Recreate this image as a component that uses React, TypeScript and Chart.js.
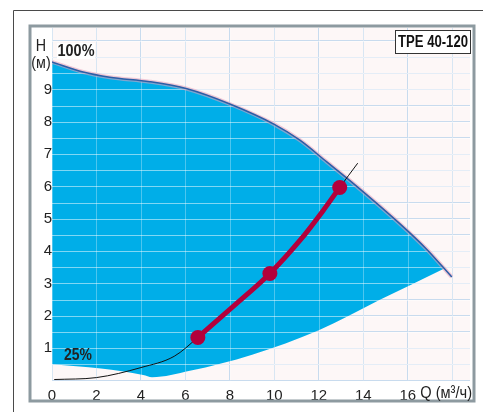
import React, { useEffect, useRef } from 'react';
import { Chart, registerables } from 'chart.js';

Chart.register(...registerables);

const FONT = "'Liberation Sans', Arial, sans-serif";

// 100% speed curve (Q m3/h, H m)
const upperFlow = [0, 1.4, 2.6, 4.4, 6.07, 8, 10, 11.15, 12.36, 13.4, 15.64, 16.85, 17.98];
const upperHead = [9.85, 9.54, 9.38, 9.24, 9.02, 8.55, 7.92, 7.43, 6.76, 6.18, 4.85, 4.06, 3.2];
// 25% speed curve
const lowerFlow = [0, 2.2, 4.1, 4.5, 6.2, 9, 12, 14.7, 17.6];
const lowerHead = [0.5, 0.37, 0.17, 0.1, 0.3, 0.8, 1.55, 2.48, 3.45];
// system curve
const systemFlow = [0.1, 2, 4, 5.5, 6.56, 8.1, 9.8, 11.15, 12.2, 12.94, 13.75];
const systemHead = [0.03, 0.09, 0.4, 0.75, 1.33, 2.26, 3.31, 4.33, 5.26, 5.97, 6.72];
// duty points
const dutyFlow = [6.56, 9.8, 12.94];
const dutyHead = [1.33, 3.31, 5.97];

const xTickValues = [0, 2, 4, 6, 8, 10, 12, 14, 16];
const xGridValues = [0, 2, 4, 6, 8, 10, 12, 14, 16, 18];
const yTickValues = [1, 2, 3, 4, 5, 6, 7, 8, 9];
const yGridValues = [0, 0.5, 1, 1.5, 2, 2.5, 3, 3.5, 4, 4.5, 5, 5.5, 6, 6.5, 7, 7.5, 8, 8.5, 9, 9.5, 10, 10.5];

const X_MAX = 18.8;
const Y_MAX = 10.9;

const xAxisTitle = 'Q (м³/ч)';
const yAxisTitle1 = 'H';
const yAxisTitle2 = '(м)';
const label100 = '100%';
const label25 = '25%';
const modelLabel = 'TPE 40-120';

const BLUE = '#00aee8';
const RED = '#b3003b';

const pts = (xs: number[], ys: number[]) => xs.map((x, i) => ({ x, y: ys[i] }));

// draw horizontally condensed text
function narrowText(ctx: any, text: string, x: number, y: number, font: string, align: string, sx = 0.84) {
  ctx.save();
  ctx.font = font;
  ctx.textBaseline = 'middle';
  ctx.textAlign = align;
  ctx.translate(x, y);
  ctx.scale(sx, 1);
  ctx.fillText(text, 0, 0);
  ctx.restore();
}

const decor = {
  id: 'decor',
  beforeDraw(chart: any) {
    const { ctx, chartArea: a } = chart;
    ctx.save();
    ctx.fillStyle = '#ffffff';
    ctx.fillRect(0, 0, chart.width, chart.height);
    ctx.fillStyle = '#fdf7f7';
    ctx.fillRect(a.left, a.top, a.right - a.left, a.bottom - a.top);
    ctx.strokeStyle = '#4a4a4a';
    ctx.lineWidth = 1;
    ctx.beginPath();
    ctx.moveTo(13.5, 412);
    ctx.lineTo(13.5, 10.5);
    ctx.lineTo(483, 10.5);
    ctx.stroke();
    ctx.restore();
  },
  afterDatasetDraw(chart: any, args: any) {
    if (args.index !== 0) return;
    const { ctx, chartArea: a, scales } = chart;
    ctx.save();
    ctx.beginPath();
    ctx.rect(a.left, a.top, a.right - a.left, a.bottom - a.top);
    ctx.clip();
    ctx.lineWidth = 1;
    ctx.strokeStyle = 'rgba(255,255,255,0.5)';
    yGridValues.forEach((v) => {
      const y = Math.round(scales.y.getPixelForValue(v)) + 0.5;
      ctx.beginPath();
      ctx.moveTo(a.left, y);
      ctx.lineTo(a.right, y);
      ctx.stroke();
    });
    ctx.strokeStyle = 'rgba(255,255,255,0.3)';
    xGridValues.forEach((v) => {
      const x = Math.round(scales.x.getPixelForValue(v)) + 0.5;
      ctx.beginPath();
      ctx.moveTo(x, a.top);
      ctx.lineTo(x, a.bottom);
      ctx.stroke();
    });
    ctx.restore();
  },
  afterDraw(chart: any) {
    const { ctx } = chart;
    ctx.save();
    // gray frame
    ctx.strokeStyle = '#8d9aa0';
    ctx.lineWidth = 3;
    ctx.strokeRect(30, 26, 444, 375);
    ctx.fillStyle = '#222';
    narrowText(ctx, yAxisTitle1, 41, 46, `17px ${FONT}`, 'center');
    narrowText(ctx, yAxisTitle2, 41, 63, `17px ${FONT}`, 'center');
    narrowText(ctx, xAxisTitle, 472, 393, `17px ${FONT}`, 'right', 0.86);
    // 100% label with white box
    ctx.fillStyle = '#ffffff';
    ctx.fillRect(57, 43, 38, 16);
    ctx.fillStyle = '#222';
    narrowText(ctx, label100, 76, 51, `bold 17px ${FONT}`, 'center', 0.85);
    narrowText(ctx, label25, 78, 355, `bold 17px ${FONT}`, 'center', 0.82);
    // model box
    ctx.fillStyle = '#ffffff';
    ctx.fillRect(395, 30, 75, 23);
    ctx.strokeStyle = '#333';
    ctx.lineWidth = 1;
    ctx.strokeRect(395.5, 30.5, 75, 23);
    ctx.fillStyle = '#111';
    narrowText(ctx, modelLabel, 433, 42.5, `bold 16px ${FONT}`, 'center', 0.82);
    ctx.restore();
  },
};

export default function App() {
  const ref = useRef<HTMLCanvasElement>(null);
  useEffect(() => {
    if (!ref.current) return;
    const redLine = pts(systemFlow, systemHead).filter(
      (p) => p.x >= dutyFlow[0] && p.x <= dutyFlow[dutyFlow.length - 1]
    );
    const chart = new Chart(ref.current, {
      type: 'line',
      data: {
        datasets: [
          {
            // blue operating area: 100% curve filled down to the 25% curve
            data: pts(upperFlow, upperHead),
            fill: 1,
            backgroundColor: BLUE,
            borderWidth: 0,
            borderColor: 'rgba(0,0,0,0)',
            pointRadius: 0,
            cubicInterpolationMode: 'monotone',
            order: 10,
          } as any,
          {
            data: pts(lowerFlow, lowerHead),
            fill: false,
            borderWidth: 0,
            borderColor: 'rgba(0,0,0,0)',
            pointRadius: 0,
            cubicInterpolationMode: 'monotone',
            order: 11,
          },
          {
            data: pts(upperFlow, upperHead),
            borderColor: 'rgba(230,160,185,0.55)',
            borderWidth: 4,
            pointRadius: 0,
            cubicInterpolationMode: 'monotone',
            fill: false,
            order: 9,
          },
          {
            data: pts(upperFlow, upperHead),
            borderColor: '#2c5ea6',
            borderWidth: 1.5,
            pointRadius: 0,
            cubicInterpolationMode: 'monotone',
            fill: false,
            order: 8,
          },
          {
            data: pts(systemFlow, systemHead),
            borderColor: '#111',
            borderWidth: 1,
            pointRadius: 0,
            cubicInterpolationMode: 'monotone',
            fill: false,
            order: 7,
          },
          {
            data: redLine,
            borderColor: RED,
            borderWidth: 5,
            pointRadius: 0,
            cubicInterpolationMode: 'monotone',
            fill: false,
            borderCapStyle: 'round',
            order: 6,
          },
          {
            data: pts(dutyFlow, dutyHead),
            showLine: false,
            pointRadius: 7.5,
            pointBackgroundColor: RED,
            pointBorderColor: RED,
            pointBorderWidth: 0,
            fill: false,
            order: 5,
          },
        ],
      },
      options: {
        responsive: false,
        animation: false,
        devicePixelRatio: 1,
        events: [],
        layout: { padding: { left: 30, top: 28, right: 15, bottom: 12 } },
        plugins: { legend: { display: false }, tooltip: { enabled: false } },
        scales: {
          x: {
            type: 'linear',
            min: 0,
            max: X_MAX,
            afterBuildTicks: (s: any) => {
              s.ticks = xGridValues.map((v) => ({ value: v }));
            },
            afterFit: (s: any) => {
              s.height = 19.5;
            },
            grid: { color: '#c8dbee', lineWidth: 1, drawTicks: false },
            border: { display: false },
            ticks: {
              padding: 6,
              maxRotation: 0,
              autoSkip: false,
              color: '#222',
              font: { family: FONT, size: 15 },
              callback: (v: any) => (xTickValues.includes(v) ? String(v) : ''),
            },
          },
          y: {
            type: 'linear',
            min: 0,
            max: Y_MAX,
            afterBuildTicks: (s: any) => {
              s.ticks = yGridValues.map((v) => ({ value: v }));
            },
            afterFit: (s: any) => {
              s.width = 22;
            },
            grid: { color: '#c8dbee', lineWidth: 1, drawTicks: false },
            border: { display: false },
            ticks: {
              padding: 0,
              crossAlign: 'center',
              autoSkip: false,
              color: '#222',
              font: { family: FONT, size: 15 },
              callback: (v: any) => (yTickValues.includes(v) ? String(v) : ''),
            },
          },
        },
      },
      plugins: [decor],
    } as any);
    return () => chart.destroy();
  }, []);
  return (
    <div style={{ position: 'fixed', left: 0, top: 0, width: 485, height: 412, background: '#fff' }}>
      <canvas ref={ref} width={485} height={412} style={{ display: 'block', width: 485, height: 412 }} />
    </div>
  );
}
